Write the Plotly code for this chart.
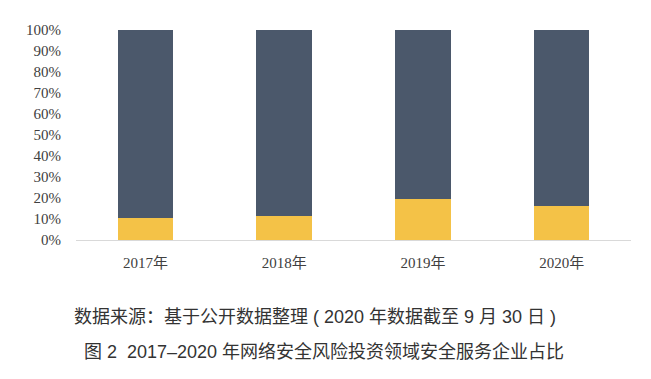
import plotly.graph_objects as go

categories = ["2017年", "2018年", "2019年", "2020年"]
security_share = [10.4, 11.6, 19.4, 16.0]
other_share = [100 - v for v in security_share]
y_ticks = [0, 10, 20, 30, 40, 50, 60, 70, 80, 90, 100]
y_tick_labels = [f"{v}%" for v in y_ticks]
source_text = "数据来源：基于公开数据整理 ( 2020 年数据截至 9 月 30 日 )"
title_text = "图 2  2017–2020 年网络安全风险投资领域安全服务企业占比"

fig = go.Figure()
fig.add_trace(go.Bar(x=categories, y=security_share, marker=dict(color="#F4C247", line=dict(width=0)), name="安全服务"))
fig.add_trace(go.Bar(x=categories, y=other_share, marker=dict(color="#4B586B", line=dict(width=0)), name="其他"))

serif = "'Liberation Serif', 'Times New Roman', 'Noto Sans CJK SC', serif"
# page body adds an 8px offset; figure is sized/margined to compensate
fig.update_layout(
    barmode="stack",
    bargap=0.6,
    width=643, height=371,
    margin=dict(l=68, r=20, t=22, b=139),
    paper_bgcolor="white", plot_bgcolor="white",
    showlegend=False,
    font=dict(family=serif, size=15, color="#404040"),
)
fig.update_yaxes(range=[0, 100], tickvals=y_ticks, ticktext=y_tick_labels, showgrid=False,
                 zeroline=False, showline=False, ticks="", ticklabelstandoff=14,
                 tickfont=dict(family=serif, size=15, color="#404040"))
fig.update_xaxes(showline=True, linecolor="#D9D9D9", linewidth=1, ticks="", showgrid=False,
                 ticklabelstandoff=9, tickfont=dict(family=serif, size=15, color="#404040"))

cap_font = dict(family="'Liberation Sans', Arial, 'Noto Sans CJK SC', sans-serif", size=18, color="#333333")
fig.add_annotation(text=source_text, xref="paper", yref="paper", x=0.431, y=-0.367,
                   showarrow=False, font=cap_font, xanchor="center", yanchor="middle")
fig.add_annotation(text=title_text, xref="paper", yref="paper", x=0.446, y=-0.533,
                   showarrow=False, font=cap_font, xanchor="center", yanchor="middle")

fig.write_html("out.html")
